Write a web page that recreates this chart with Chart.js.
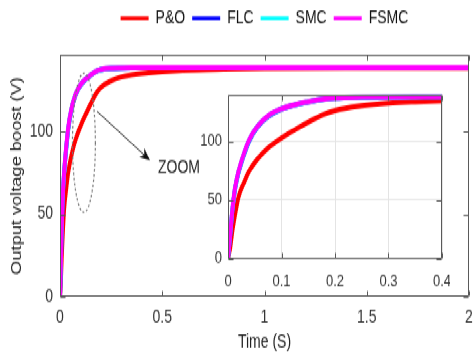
<!DOCTYPE html>
<html lang="en">
<head>
  <meta charset="UTF-8" />
  <title>Output voltage boost</title>
  <script src="https://cdn.jsdelivr.net/npm/chart.js"></script>
  <style>
    html, body {
      margin: 0;
      background: #fff;
      width: 473px;
      height: 354px;
    }

    #page {
      width: 473px;
      height: 354px;
      overflow: hidden;
    }

    /* the whole figure is drawn flat, then stretched like the original */
    #figure {
      position: relative;
      width: 473px;
      height: 272px;
      transform: scaleY(1.3015);
      transform-origin: 0 0;
    }

    #mainChart {
      position: absolute;
      left: 0;
      top: 0;
    }

    #zoomChart {
      position: absolute;
      left: 190px;
      top: 59px;
    }
  </style>
</head>

<body>
  <div id="page">
    <div id="figure">
      <canvas id="mainChart" width="473" height="272"></canvas>
      <canvas id="zoomChart" width="260" height="163"></canvas>
    </div>
  </div>

  <script>
    const seriesNames = ['P&O', 'FLC', 'SMC', 'FSMC'];
    const seriesColors = ['#ff0000', '#0000ff', '#00ffff', '#ff00ff'];

    const timeS = [0, 0.004, 0.008, 0.013, 0.02, 0.03, 0.04, 0.055, 0.075, 0.1, 0.125, 0.15, 0.175, 0.2, 0.25, 0.3, 0.35, 0.4, 0.5, 0.6, 0.8, 1.0, 1.5, 2.0];
    const pno  = [0, 9, 23, 37, 53, 65, 75, 85, 94.5, 103, 110, 116.5, 122.5, 126.5, 130.5, 132.8, 134, 134.8, 136, 136.8, 137.5, 137.9, 138.1, 138.1];
    const flc  = [0, 19, 40, 59, 74, 89, 101, 112.5, 121.5, 127.8, 131.3, 133.8, 136, 137.2, 137.9, 138.2, 138.3, 138.3, 138.3, 138.3, 138.3, 138.3, 138.3, 138.3];
    const smc  = [0, 19.5, 40.5, 59.5, 74.5, 89.5, 101.5, 112.8, 121.8, 127.9, 131.4, 133.9, 136.1, 137.2, 137.9, 138.2, 138.3, 138.3, 138.3, 138.3, 138.3, 138.3, 138.3, 138.3];
    const fsmc = [0, 20, 41, 60, 75, 90, 102, 113, 122, 128, 131.5, 134, 136.2, 137.3, 138, 138.2, 138.3, 138.3, 138.3, 138.3, 138.3, 138.3, 138.3, 138.3];
    const allSeries = [pno, flc, smc, fsmc];

    const mainXTicks = [0, 0.5, 1, 1.5, 2];
    const mainYTicks = [0, 50, 100];
    const zoomXTicks = [0, 0.1, 0.2, 0.3, 0.4];
    const zoomYTicks = [0, 50, 100];

    // dashed ellipse, arrow and label marking the zoomed region (data units)
    const zoomRing = { t: 0.117, v: 93, dt: 0.056, dv: 42 };
    const zoomArrow = { t0: 0.181, v0: 112, t1: 0.44, v1: 82.5 };
    const zoomLabel = { t: 0.582, v: 78, text: 'ZOOM' };

    Chart.defaults.font.family = "'Liberation Sans', Arial, sans-serif";
    Chart.defaults.color = '#333';

    function makeDatasets() {
      return allSeries.map((vals, i) => ({
        label: seriesNames[i],
        data: timeS.map((t, k) => ({ x: t, y: vals[k] })),
        borderColor: seriesColors[i],
        backgroundColor: seriesColors[i],
        borderWidth: 4,
        pointRadius: 0,
        cubicInterpolationMode: 'monotone',
        clip: 0,
        order: allSeries.length - 1 - i
      }));
    }

    function fixedTicks(list) {
      return scale => { scale.ticks = list.map(v => ({ value: v })); };
    }

    // fixed axis size, without the extra room chart.js keeps for end labels
    function fixedHeight(h) {
      return s => { s.height = h; s.paddingLeft = 0; s.paddingRight = 0; };
    }

    const plainLabel = v => String(v);

    // box around the plot with ticks pointing inwards on all four sides
    const boxTicks = {
      id: 'boxTicks',
      afterDatasetsDraw(chart) {
        const { ctx, chartArea: a, scales: { x, y } } = chart;
        const L = Math.round(a.left) + 0.5, R = Math.round(a.right) - 0.5;
        const T = Math.round(a.top) + 0.5, B = Math.round(a.bottom) - 0.5;
        ctx.save();
        ctx.strokeStyle = '#5a5a5a';
        ctx.lineWidth = 1;
        ctx.beginPath();
        x.ticks.forEach(t => {
          const px = Math.round(x.getPixelForValue(t.value)) + 0.5;
          ctx.moveTo(px, B); ctx.lineTo(px, B - 4);
          ctx.moveTo(px, T); ctx.lineTo(px, T + 4);
        });
        y.ticks.forEach(t => {
          const py = Math.round(y.getPixelForValue(t.value)) + 0.5;
          ctx.moveTo(L, py); ctx.lineTo(L + 5, py);
          ctx.moveTo(R, py); ctx.lineTo(R - 5, py);
        });
        ctx.rect(L, T, R - L, B - T);
        ctx.stroke();
        ctx.restore();
      }
    };

    const zoomMarker = {
      id: 'zoomMarker',
      afterDraw(chart) {
        const { ctx, scales: { x, y } } = chart;
        ctx.save();
        // dashed ellipse
        const cx = x.getPixelForValue(zoomRing.t), cy = y.getPixelForValue(zoomRing.v);
        const rx = x.getPixelForValue(zoomRing.t + zoomRing.dt) - cx;
        const ry = cy - y.getPixelForValue(zoomRing.v + zoomRing.dv);
        ctx.strokeStyle = '#777';
        ctx.lineWidth = 1.2;
        ctx.setLineDash([2, 2]);
        ctx.beginPath();
        ctx.ellipse(cx, cy, rx, ry, 0, 0, Math.PI * 2);
        ctx.stroke();
        ctx.setLineDash([]);

        // arrow
        const x0 = x.getPixelForValue(zoomArrow.t0), y0 = y.getPixelForValue(zoomArrow.v0);
        const x1 = x.getPixelForValue(zoomArrow.t1), y1 = y.getPixelForValue(zoomArrow.v1);
        const ang = Math.atan2(y1 - y0, x1 - x0);
        ctx.strokeStyle = '#333';
        ctx.lineWidth = 1;
        ctx.beginPath();
        ctx.moveTo(x0, y0);
        ctx.lineTo(x1 - 6 * Math.cos(ang), y1 - 6 * Math.sin(ang));
        ctx.stroke();
        ctx.fillStyle = '#111';
        ctx.beginPath();
        ctx.moveTo(x1, y1);
        ctx.lineTo(x1 - 11 * Math.cos(ang - 0.4), y1 - 11 * Math.sin(ang - 0.4));
        ctx.lineTo(x1 - 7 * Math.cos(ang), y1 - 7 * Math.sin(ang));
        ctx.lineTo(x1 - 11 * Math.cos(ang + 0.4), y1 - 11 * Math.sin(ang + 0.4));
        ctx.closePath();
        ctx.fill();

        // label
        ctx.fillStyle = '#222';
        ctx.font = "14px 'Liberation Sans', Arial, sans-serif";
        ctx.textAlign = 'center';
        ctx.textBaseline = 'middle';
        ctx.fillText(zoomLabel.text, x.getPixelForValue(zoomLabel.t), y.getPixelForValue(zoomLabel.v));
        ctx.restore();
      }
    };

    // legend: extra space below it, and centred over the plot area
    const legendPlace = {
      id: 'legendPlace',
      beforeInit(chart) {
        const fit = chart.legend.fit;
        chart.legend.fit = function () {
          fit.bind(chart.legend)();
          this.height = 42.3;
        };
      },
      afterLayout(chart) {
        const lg = chart.legend;
        lg.left = chart.chartArea.left;
        lg.right = chart.chartArea.right;
        lg.width = lg.right - lg.left;
      }
    };

    new Chart(document.getElementById('mainChart'), {
      type: 'line',
      data: { datasets: makeDatasets() },
      options: {
        responsive: false,
        animation: false,
        layout: { padding: { left: 0, right: 4, top: 0, bottom: 0 } },
        plugins: {
          legend: {
            position: 'top',
            labels: {
              boxWidth: 28,
              boxHeight: 3,
              padding: 7,
              color: '#111',
              font: { size: 14 },
              sort: (a, b) => a.datasetIndex - b.datasetIndex,
              generateLabels: chart => Chart.defaults.plugins.legend.labels.generateLabels(chart)
                .map(l => ({ ...l, lineWidth: 0, fillStyle: l.strokeStyle }))
            }
          },
          tooltip: { enabled: false }
        },
        scales: {
          x: {
            type: 'linear',
            min: 0,
            max: 2,
            afterBuildTicks: fixedTicks(mainXTicks),
            afterFit: fixedHeight(43.8),
            grid: { display: false, drawTicks: false },
            border: { display: false },
            ticks: { padding: 8, font: { size: 14 }, color: '#333', maxRotation: 0, callback: plainLabel },
            title: { display: true, text: 'Time (S)', color: '#222', font: { size: 14 }, padding: { top: 0, bottom: 0 } }
          },
          y: {
            min: 0,
            max: 146,
            afterBuildTicks: fixedTicks(mainYTicks),
            afterFit: s => { s.width = 60; },
            grid: { display: false, drawTicks: false },
            border: { display: false },
            ticks: { padding: 7, font: { size: 14 }, color: '#333', callback: plainLabel },
            title: { display: true, text: 'Output voltage boost (V)', color: '#222', font: { size: 14 }, padding: { top: 9, bottom: 0 } }
          }
        }
      },
      plugins: [legendPlace, boxTicks, zoomMarker]
    });

    new Chart(document.getElementById('zoomChart'), {
      type: 'line',
      data: { datasets: makeDatasets() },
      options: {
        responsive: false,
        animation: false,
        layout: { padding: { left: 0, right: 8, top: 10, bottom: 0 } },
        plugins: { legend: { display: false }, tooltip: { enabled: false } },
        scales: {
          x: {
            type: 'linear',
            min: 0,
            max: 0.4,
            afterBuildTicks: fixedTicks(zoomXTicks),
            afterFit: fixedHeight(23.4),
            grid: { color: '#e4e4e4', drawTicks: false },
            border: { display: false },
            ticks: { padding: 10, font: { size: 13 }, color: '#333', maxRotation: 0, callback: plainLabel }
          },
          y: {
            min: 0,
            max: 140,
            afterBuildTicks: fixedTicks(zoomYTicks),
            afterFit: s => { s.width = 38; },
            grid: { color: '#e4e4e4', drawTicks: false },
            border: { display: false },
            ticks: { padding: 6, font: { size: 13 }, color: '#333', callback: plainLabel }
          }
        }
      },
      plugins: [boxTicks]
    });
  </script>
</body>
</html>
